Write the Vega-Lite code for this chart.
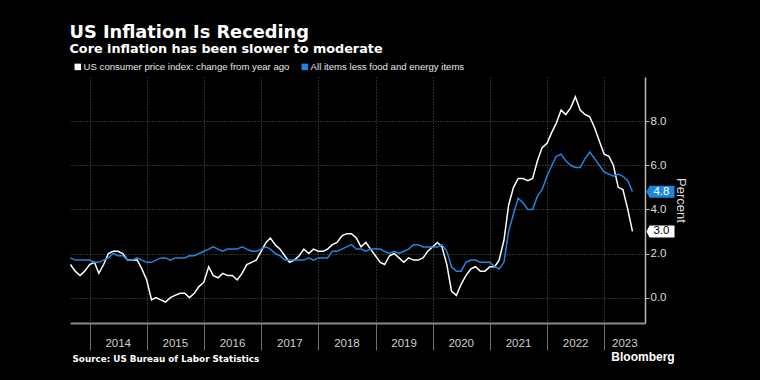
{
  "$schema": "https://vega.github.io/schema/vega-lite/v6.json",
  "width": 575,
  "height": 246,
  "autosize": {"type": "none"},
  "padding": {"left": 70, "top": 77, "right": 115, "bottom": 57},
  "background": "#000000",
  "config": {"view": {"stroke": null}, "font": "Liberation Sans"},
  "title": {
    "text": "US Inflation Is Receding",
    "subtitle": "Core inflation has been slower to moderate",
    "anchor": "start",
    "dx": 2,
    "font": "DejaVu Sans",
    "fontSize": 17.8,
    "fontWeight": "bold",
    "color": "#ffffff",
    "subtitleFont": "DejaVu Sans",
    "subtitleFontSize": 12.8,
    "subtitleFontWeight": "bold",
    "subtitleColor": "#ffffff",
    "subtitlePadding": 1,
    "offset": 3
  },
  "data": {
    "values": [
      {"date": "2013-08-31", "cpi": 1.5, "core": 1.8},
      {"date": "2013-09-30", "cpi": 1.2, "core": 1.7},
      {"date": "2013-10-31", "cpi": 1.0, "core": 1.7},
      {"date": "2013-11-30", "cpi": 1.2, "core": 1.7},
      {"date": "2013-12-31", "cpi": 1.5, "core": 1.7},
      {"date": "2014-01-31", "cpi": 1.6, "core": 1.6},
      {"date": "2014-02-28", "cpi": 1.1, "core": 1.6},
      {"date": "2014-03-31", "cpi": 1.5, "core": 1.7},
      {"date": "2014-04-30", "cpi": 2.0, "core": 1.8},
      {"date": "2014-05-31", "cpi": 2.1, "core": 2.0},
      {"date": "2014-06-30", "cpi": 2.1, "core": 1.9},
      {"date": "2014-07-31", "cpi": 2.0, "core": 1.9},
      {"date": "2014-08-31", "cpi": 1.7, "core": 1.7},
      {"date": "2014-09-30", "cpi": 1.7, "core": 1.7},
      {"date": "2014-10-31", "cpi": 1.7, "core": 1.8},
      {"date": "2014-11-30", "cpi": 1.3, "core": 1.7},
      {"date": "2014-12-31", "cpi": 0.8, "core": 1.6},
      {"date": "2015-01-31", "cpi": -0.1, "core": 1.6},
      {"date": "2015-02-28", "cpi": 0.0, "core": 1.7},
      {"date": "2015-03-31", "cpi": -0.1, "core": 1.8},
      {"date": "2015-04-30", "cpi": -0.2, "core": 1.8},
      {"date": "2015-05-31", "cpi": 0.0, "core": 1.7},
      {"date": "2015-06-30", "cpi": 0.1, "core": 1.8},
      {"date": "2015-07-31", "cpi": 0.2, "core": 1.8},
      {"date": "2015-08-31", "cpi": 0.2, "core": 1.8},
      {"date": "2015-09-30", "cpi": 0.0, "core": 1.9},
      {"date": "2015-10-31", "cpi": 0.2, "core": 1.9},
      {"date": "2015-11-30", "cpi": 0.5, "core": 2.0},
      {"date": "2015-12-31", "cpi": 0.7, "core": 2.1},
      {"date": "2016-01-31", "cpi": 1.4, "core": 2.2},
      {"date": "2016-02-29", "cpi": 1.0, "core": 2.3},
      {"date": "2016-03-31", "cpi": 0.9, "core": 2.2},
      {"date": "2016-04-30", "cpi": 1.1, "core": 2.1},
      {"date": "2016-05-31", "cpi": 1.0, "core": 2.2},
      {"date": "2016-06-30", "cpi": 1.0, "core": 2.2},
      {"date": "2016-07-31", "cpi": 0.8, "core": 2.2},
      {"date": "2016-08-31", "cpi": 1.1, "core": 2.3},
      {"date": "2016-09-30", "cpi": 1.5, "core": 2.2},
      {"date": "2016-10-31", "cpi": 1.6, "core": 2.1},
      {"date": "2016-11-30", "cpi": 1.7, "core": 2.1},
      {"date": "2016-12-31", "cpi": 2.1, "core": 2.2},
      {"date": "2017-01-31", "cpi": 2.5, "core": 2.3},
      {"date": "2017-02-28", "cpi": 2.7, "core": 2.2},
      {"date": "2017-03-31", "cpi": 2.4, "core": 2.0},
      {"date": "2017-04-30", "cpi": 2.2, "core": 1.9},
      {"date": "2017-05-31", "cpi": 1.9, "core": 1.7},
      {"date": "2017-06-30", "cpi": 1.6, "core": 1.7},
      {"date": "2017-07-31", "cpi": 1.7, "core": 1.7},
      {"date": "2017-08-31", "cpi": 1.9, "core": 1.7},
      {"date": "2017-09-30", "cpi": 2.2, "core": 1.7},
      {"date": "2017-10-31", "cpi": 2.0, "core": 1.8},
      {"date": "2017-11-30", "cpi": 2.2, "core": 1.7},
      {"date": "2017-12-31", "cpi": 2.1, "core": 1.8},
      {"date": "2018-01-31", "cpi": 2.1, "core": 1.8},
      {"date": "2018-02-28", "cpi": 2.2, "core": 1.8},
      {"date": "2018-03-31", "cpi": 2.4, "core": 2.1},
      {"date": "2018-04-30", "cpi": 2.5, "core": 2.1},
      {"date": "2018-05-31", "cpi": 2.8, "core": 2.2},
      {"date": "2018-06-30", "cpi": 2.9, "core": 2.3},
      {"date": "2018-07-31", "cpi": 2.9, "core": 2.4},
      {"date": "2018-08-31", "cpi": 2.7, "core": 2.2},
      {"date": "2018-09-30", "cpi": 2.3, "core": 2.2},
      {"date": "2018-10-31", "cpi": 2.5, "core": 2.1},
      {"date": "2018-11-30", "cpi": 2.2, "core": 2.2},
      {"date": "2018-12-31", "cpi": 1.9, "core": 2.2},
      {"date": "2019-01-31", "cpi": 1.6, "core": 2.2},
      {"date": "2019-02-28", "cpi": 1.5, "core": 2.1},
      {"date": "2019-03-31", "cpi": 1.9, "core": 2.0},
      {"date": "2019-04-30", "cpi": 2.0, "core": 2.1},
      {"date": "2019-05-31", "cpi": 1.8, "core": 2.0},
      {"date": "2019-06-30", "cpi": 1.6, "core": 2.1},
      {"date": "2019-07-31", "cpi": 1.8, "core": 2.2},
      {"date": "2019-08-31", "cpi": 1.7, "core": 2.4},
      {"date": "2019-09-30", "cpi": 1.7, "core": 2.4},
      {"date": "2019-10-31", "cpi": 1.8, "core": 2.3},
      {"date": "2019-11-30", "cpi": 2.1, "core": 2.3},
      {"date": "2019-12-31", "cpi": 2.3, "core": 2.3},
      {"date": "2020-01-31", "cpi": 2.5, "core": 2.3},
      {"date": "2020-02-29", "cpi": 2.3, "core": 2.4},
      {"date": "2020-03-31", "cpi": 1.5, "core": 2.1},
      {"date": "2020-04-30", "cpi": 0.3, "core": 1.4},
      {"date": "2020-05-31", "cpi": 0.1, "core": 1.2},
      {"date": "2020-06-30", "cpi": 0.6, "core": 1.2},
      {"date": "2020-07-31", "cpi": 1.0, "core": 1.6},
      {"date": "2020-08-31", "cpi": 1.3, "core": 1.7},
      {"date": "2020-09-30", "cpi": 1.4, "core": 1.7},
      {"date": "2020-10-31", "cpi": 1.2, "core": 1.6},
      {"date": "2020-11-30", "cpi": 1.2, "core": 1.6},
      {"date": "2020-12-31", "cpi": 1.4, "core": 1.6},
      {"date": "2021-01-31", "cpi": 1.4, "core": 1.4},
      {"date": "2021-02-28", "cpi": 1.7, "core": 1.3},
      {"date": "2021-03-31", "cpi": 2.6, "core": 1.6},
      {"date": "2021-04-30", "cpi": 4.2, "core": 3.0},
      {"date": "2021-05-31", "cpi": 5.0, "core": 3.8},
      {"date": "2021-06-30", "cpi": 5.4, "core": 4.5},
      {"date": "2021-07-31", "cpi": 5.4, "core": 4.3},
      {"date": "2021-08-31", "cpi": 5.3, "core": 4.0},
      {"date": "2021-09-30", "cpi": 5.4, "core": 4.0},
      {"date": "2021-10-31", "cpi": 6.2, "core": 4.6},
      {"date": "2021-11-30", "cpi": 6.8, "core": 4.9},
      {"date": "2021-12-31", "cpi": 7.0, "core": 5.5},
      {"date": "2022-01-31", "cpi": 7.5, "core": 6.0},
      {"date": "2022-02-28", "cpi": 7.9, "core": 6.4},
      {"date": "2022-03-31", "cpi": 8.5, "core": 6.5},
      {"date": "2022-04-30", "cpi": 8.3, "core": 6.2},
      {"date": "2022-05-31", "cpi": 8.6, "core": 6.0},
      {"date": "2022-06-30", "cpi": 9.1, "core": 5.9},
      {"date": "2022-07-31", "cpi": 8.5, "core": 5.9},
      {"date": "2022-08-31", "cpi": 8.3, "core": 6.3},
      {"date": "2022-09-30", "cpi": 8.2, "core": 6.6},
      {"date": "2022-10-31", "cpi": 7.7, "core": 6.3},
      {"date": "2022-11-30", "cpi": 7.1, "core": 6.0},
      {"date": "2022-12-31", "cpi": 6.5, "core": 5.7},
      {"date": "2023-01-31", "cpi": 6.4, "core": 5.6},
      {"date": "2023-02-28", "cpi": 6.0, "core": 5.5},
      {"date": "2023-03-31", "cpi": 5.0, "core": 5.6},
      {"date": "2023-04-30", "cpi": 4.9, "core": 5.5},
      {"date": "2023-05-31", "cpi": 4.0, "core": 5.3},
      {"date": "2023-06-30", "cpi": 3.0, "core": 4.8}
    ]
  },
  "transform": [{"fold": ["cpi", "core"], "as": ["key", "value"]}],
  "layer": [
    {
      "mark": {"type": "line", "strokeWidth": 1.5, "interpolate": "linear"},
      "encoding": {
        "x": {
          "field": "date",
          "type": "temporal",
          "scale": {"domain": [{"year": 2013, "month": 8, "date": 28}, {"year": 2023, "month": 9, "date": 18}]},
          "axis": {
            "title": "Source: US Bureau of Labor Statistics",
            "titleAnchor": "start",
            "titleAlign": "left",
            "titleBaseline": "top",
            "titleFont": "DejaVu Sans",
            "titleFontSize": 8.8,
            "titleFontWeight": "bold",
            "titleColor": "#ffffff",
            "titlePadding": 4,
            "titleX": 2,
            "format": "%Y",
            "tickCount": {"interval": "year", "step": 1},
            "grid": true,
            "gridColor": "#5a5a5a",
            "gridDash": [1, 2],
            "gridWidth": 1,
            "tickSize": 27,
            "tickColor": "#6e6e6e",
            "tickWidth": 1,
            "domainColor": "#8a8a8a",
            "domainWidth": 2,
            "labelColor": "#cfcfcf",
            "labelFont": "Liberation Sans",
            "labelFontSize": 11.5,
            "labelBaseline": "middle",
            "labelPadding": -7,
            "labelAlign": "center",
            "labelOffset": {"condition": {"test": "year(datum.value) == 2023", "value": 20}, "value": 28},
            "labelFlush": false,
            "labelOverlap": false,
            "labelBound": false
          }
        },
        "y": {
          "field": "value",
          "type": "quantitative",
          "scale": {"domain": [-1.15, 10], "nice": false, "zero": false},
          "axis": {
            "orient": "right",
            "title": "Percent",
            "titleAngle": 90,
            "titleColor": "#dddddd",
            "titleFont": "Liberation Sans",
            "titleFontSize": 13,
            "titleFontWeight": "normal",
            "titlePadding": 8,
            "values": [0, 2, 4, 6, 8],
            "format": ".1f",
            "tickSize": 4,
            "grid": true,
            "gridColor": "#5a5a5a",
            "gridDash": [1, 2],
            "domainColor": "#bbbbbb",
            "domainWidth": 1.5,
            "tickColor": "#bbbbbb",
            "labelColor": "#dddddd",
            "labelFont": "Liberation Sans",
            "labelFontSize": 11.5,
            "labelPadding": 1,
            "labelOverlap": false
          }
        },
        "color": {
          "field": "key",
          "type": "nominal",
          "scale": {"domain": ["cpi", "core"], "range": ["#ffffff", "#1f86e0"]},
          "legend": {
            "orient": "top",
            "direction": "horizontal",
            "title": null,
            "symbolType": "square",
            "symbolSize": 4,
            "symbolStrokeWidth": 4.5,
            "labelFont": "Liberation Sans",
            "labelFontSize": 9.6,
            "labelColor": "#e6e6e6",
            "labelLimit": 400,
            "labelExpr": "datum.value == 'cpi' ? 'US consumer price index: change from year ago' : 'All items less food and energy items'",
            "columnPadding": 4,
            "labelOffset": 1,
            "offset": -3,
            "padding": 3
          }
        }
      }
    },
    {
      "transform": [{"filter": {"field": "date", "timeUnit": "yearmonth", "equal": {"year": 2023, "month": 6}}}],
      "mark": {
        "type": "point",
        "shape": "M-1,0L-0.78,-0.43L1,-0.43L1,0.43L-0.78,0.43Z",
        "size": 784,
        "filled": true,
        "opacity": 1,
        "strokeWidth": 0,
        "xOffset": 28
      },
      "encoding": {
        "x": {"field": "date", "type": "temporal"},
        "y": {"field": "value", "type": "quantitative"},
        "color": {"condition": {"test": "datum.key == 'cpi'", "value": "#ffffff"}, "value": "#1f86e0"}
      }
    },
    {
      "transform": [{"filter": {"field": "date", "timeUnit": "yearmonth", "equal": {"year": 2023, "month": 6}}}],
      "mark": {"type": "text", "dx": 29, "align": "center", "baseline": "middle", "font": "Liberation Sans", "fontSize": 11.5},
      "encoding": {
        "x": {"field": "date", "type": "temporal"},
        "y": {"field": "value", "type": "quantitative"},
        "text": {"field": "value", "type": "quantitative", "format": ".1f"},
        "color": {"condition": {"test": "datum.key == 'cpi'", "value": "#000000"}, "value": "#ffffff"}
      }
    },
    {
      "data": {"values": [{"label": "Bloomberg"}]},
      "mark": {"type": "text", "align": "left", "baseline": "middle", "dx": 7, "dy": 34, "font": "Liberation Sans", "fontSize": 12, "fontWeight": "bold", "color": "#ffffff"},
      "encoding": {
        "x": {"datum": {"year": 2023, "month": 1, "date": 1}, "type": "temporal"},
        "y": {"datum": -1.15, "type": "quantitative"},
        "text": {"field": "label"}
      }
    }
  ]
}
